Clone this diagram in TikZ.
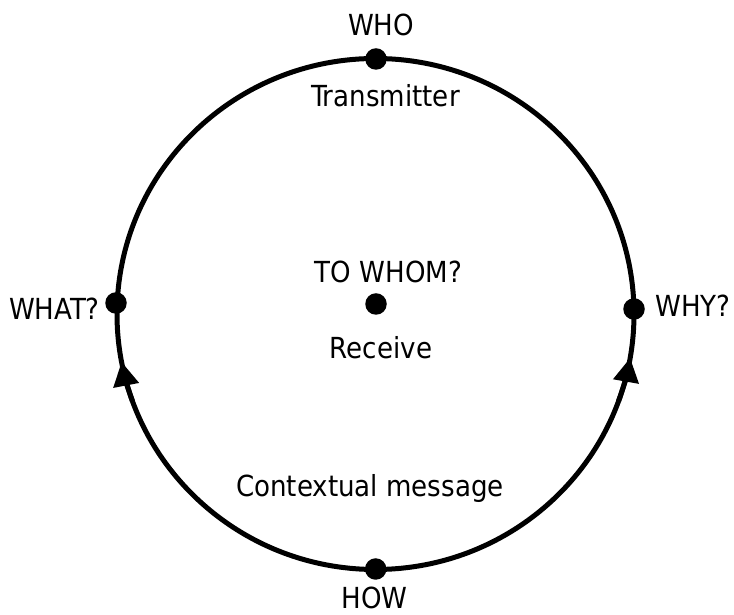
\documentclass[tikz,border=0pt]{standalone}
\usepackage{fontspec}
\setmainfont{DejaVu Sans Condensed}
\usetikzlibrary{arrows.meta}
\begin{document}
\begin{tikzpicture}[x=1pt,y=1pt,
  ring/.style={line width=5pt},
  dot/.style={circle,fill=black,inner sep=0pt,minimum size=21.5pt},
  lbl/.style={inner sep=0pt,font=\fontsize{29}{34}\selectfont},
  tip/.style={line width=5pt,-{Triangle[length=24pt,width=25pt]}}]
\useasboundingbox (0,0) rectangle (734,615);
\coordinate (C) at (375.5,301);
\draw[ring] (C) ellipse [x radius=258.5, y radius=255.5];
% arrows on the ring
\coordinate (la) at (132.6,213.6);
\coordinate (ra) at (618.4,213.6);
\draw[tip] (la) arc[start angle=200, end angle=190.8, x radius=258.5, y radius=255.5];
\draw[tip] (ra) arc[start angle=-20, end angle=-9.9, x radius=258.5, y radius=255.5];
% dots
\node[dot] (top) at (376,556) {};
\node[dot] (bot) at (375.7,46) {};
\node[dot] (lft) at (116,312) {};
\node[dot] (rgt) at (634,306) {};
\node[dot] (mid) at (376,311) {};
% labels
\node[lbl,anchor=base] (who) at (381,579) {WHO};
\node[lbl,anchor=base] (trans) at (385.5,508) {Transmitter};
\node[lbl,anchor=base] (towhom) at (388.5,332) {TO WHOM?};
\node[lbl,anchor=base] (recv) at (381,256) {Receive};
\node[lbl,anchor=base east] (what) at (100,295) {WHAT?};
\node[lbl,anchor=base west] (why) at (655,298) {WHY?};
\node[lbl,anchor=base] (ctx) at (370,118) {Contextual message};
\node[lbl,anchor=base] (how) at (374.5,6) {HOW};
\end{tikzpicture}
\end{document}
